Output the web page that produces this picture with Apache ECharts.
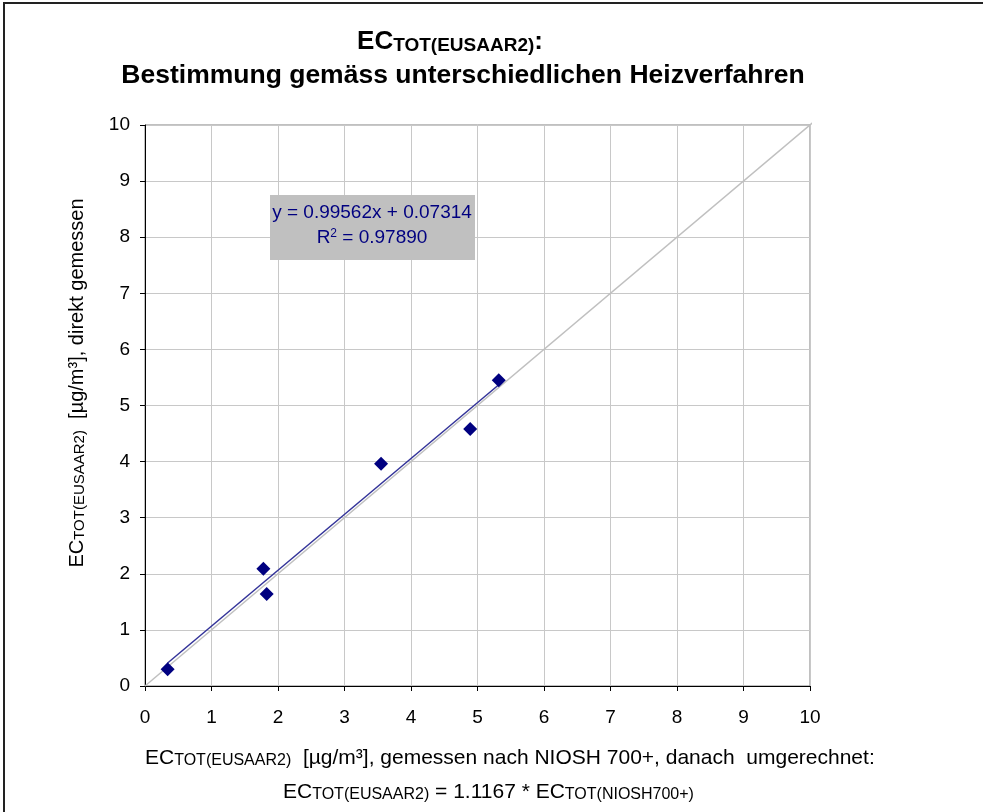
<!DOCTYPE html>
<html><head><meta charset="utf-8">
<script src="https://cdn.jsdelivr.net/npm/echarts@6/dist/echarts.min.js"></script>
<style>html,body{margin:0;padding:0;background:#fff}#c{width:983px;height:812px}</style>
</head><body><div id="c"></div>
<script>
// Measured points (x: converted NIOSH 700+, y: directly measured EUSAAR2)
const xValues = [0.34, 1.78, 1.83, 3.55, 4.89, 5.32];
const yValues = [0.30, 2.09, 1.64, 3.96, 4.58, 5.45];
// Linear trend line end points (as drawn)
const trendX = [0.34, 5.32];
const trendY = [0.41, 5.37];
// 1:1 reference line end points
const refX = [0, 10.12];
const refY = [0, 10.12];
const axisMin = 0, axisMax = 10, axisStep = 1;
const equationText = 'y = 0.99562x + 0.07314';
const r2Value = '0.97890';

const FONT = '"Liberation Sans", Arial, sans-serif';
const chart = echarts.init(document.getElementById('c'), null, {renderer: 'canvas'});

const scatterData = xValues.map((x, i) => [x, yValues[i]]);
const trendData = trendX.map((x, i) => [x, trendY[i]]);
const refData = refX.map((x, i) => [x, refY[i]]);

const axisCommon = {
  type: 'value', min: axisMin, max: axisMax, interval: axisStep,
  axisLine: {show: true, onZero: false, lineStyle: {color: '#000', width: 1}},
  axisTick: {show: true, length: 5, lineStyle: {color: '#000'}},
  splitLine: {show: true, lineStyle: {color: '#c8c8c8', width: 1}},
  axisLabel: {color: '#000', fontSize: 19, fontFamily: FONT}
};

const mainRich = {fontSize: 21, fontFamily: FONT, fill: '#000', lineHeight: 26, verticalAlign: 'bottom'};
const subRich = {fontSize: 16, fontFamily: FONT, fill: '#000', lineHeight: 14, verticalAlign: 'bottom'};

chart.setOption({
  animation: false,
  backgroundColor: '#fff',
  grid: {left: 145, right: 173, top: 125, bottom: 126, show: true, borderColor: '#808080', borderWidth: 1, containLabel: false},
  xAxis: Object.assign({}, axisCommon, {axisLabel: Object.assign({}, axisCommon.axisLabel, {margin: 22})}),
  yAxis: Object.assign({}, axisCommon, {axisLabel: Object.assign({}, axisCommon.axisLabel, {margin: 15})}),
  series: [
    {type: 'line', data: refData, symbol: 'none', clip: false, z: 2,
     lineStyle: {color: '#c0c0c0', width: 1.5}},
    {type: 'line', data: trendData, symbol: 'none', z: 3,
     lineStyle: {color: '#333399', width: 1.5}},
    {type: 'scatter', data: scatterData, symbol: 'diamond', symbolSize: 14, z: 4,
     itemStyle: {color: '#000080', opacity: 1}}
  ],
  graphic: [
    {type: 'rect', shape: {x: 4, y: 3, width: 1200, height: 1200},
     style: {fill: 'none', stroke: '#222', lineWidth: 2}, silent: true},
    {type: 'text', x: 450, y: 40,
     style: {text: '{b|EC}{s|TOT(EUSAAR2)}{b|:}', align: 'center', verticalAlign: 'middle',
       rich: {
         b: {fontSize: 26, fontWeight: 'bold', fontFamily: FONT, fill: '#000', lineHeight: 30, verticalAlign: 'bottom'},
         s: {fontSize: 19, fontWeight: 'bold', fontFamily: FONT, fill: '#000', lineHeight: 16, verticalAlign: 'bottom'}
       }}},
    {type: 'text', x: 463, y: 76,
     style: {text: 'Bestimmung gemäss unterschiedlichen Heizverfahren', align: 'center', verticalAlign: 'middle',
       fontSize: 26.5, fontWeight: 'bold', fontFamily: FONT, fill: '#000'}},
    {type: 'rect', shape: {x: 270, y: 195, width: 205, height: 65},
     style: {fill: '#c0c0c0'}, z: 10},
    {type: 'text', x: 372, y: 213, z: 11,
     style: {text: equationText, align: 'center', verticalAlign: 'middle',
       fontSize: 19, fontFamily: FONT, fill: '#000080'}},
    {type: 'text', x: 372, y: 239, z: 11,
     style: {text: '{m|R}{p|2}{m| = ' + r2Value + '}', align: 'center', verticalAlign: 'middle',
       rich: {
         m: {fontSize: 19, fontFamily: FONT, fill: '#000080', lineHeight: 22, verticalAlign: 'top'},
         p: {fontSize: 12, fontFamily: FONT, fill: '#000080', lineHeight: 12, verticalAlign: 'top'}
       }}},
    {type: 'text', x: 75, y: 383, rotation: Math.PI / 2,
     style: {text: '{m|EC}{s|TOT(EUSAAR2)}{m|  [µg/m³], direkt gemessen}', align: 'center', verticalAlign: 'middle',
       rich: {
         m: {fontSize: 20, fontFamily: FONT, fill: '#000', lineHeight: 24, verticalAlign: 'bottom'},
         s: {fontSize: 15, fontFamily: FONT, fill: '#000', lineHeight: 19, verticalAlign: 'bottom'}
       }}},
    {type: 'text', x: 145, y: 756,
     style: {text: '{m|EC}{s|TOT(EUSAAR2)}{m|  [µg/m³], gemessen nach NIOSH 700+, danach  umgerechnet:}', align: 'left', verticalAlign: 'middle',
       rich: {m: mainRich, s: subRich}}},
    {type: 'text', x: 283, y: 790,
     style: {text: '{m|EC}{s|TOT(EUSAAR2)}{m| = 1.1167 * EC}{s|TOT(NIOSH700+)}', align: 'left', verticalAlign: 'middle',
       rich: {m: mainRich, s: subRich}}}
  ]
});
</script>
</body></html>
